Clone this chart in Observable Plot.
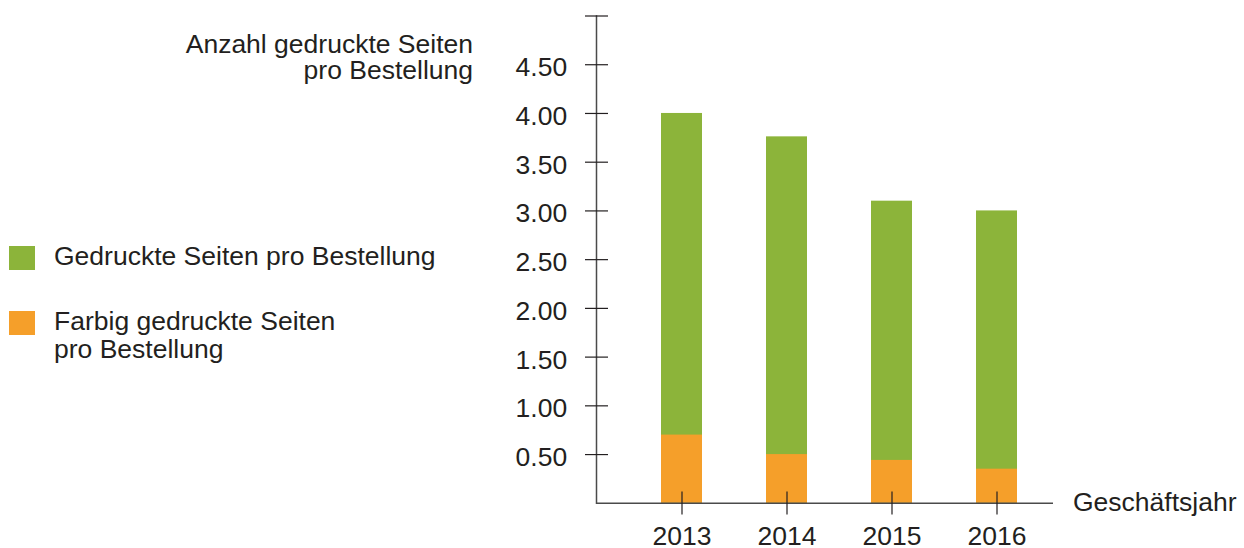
<!DOCTYPE html>
<html>
<head>
<meta charset="utf-8">
<script src="https://cdn.jsdelivr.net/npm/d3@7"></script>
<script src="https://cdn.jsdelivr.net/npm/@observablehq/plot@0.6"></script>
<style>
  html, body { margin: 0; padding: 0; background: #fff; }
  #wrap { position: relative; width: 1244px; height: 548px; font-family: "Liberation Sans", Arial, sans-serif; color: #231f20; }
  #wrap svg { position: absolute; left: 0; top: 0; }
  .lbl { position: absolute; font-size: 26.5px; white-space: nowrap; }
  .sw { position: absolute; width: 26px; height: 24px; }
</style>
</head>
<body>
<div id="wrap"></div>
<script>
const years = ["2013", "2014", "2015", "2016"];
const totalPages = [4.0, 3.76, 3.1, 3.0];
const colorPages = [0.7, 0.5, 0.44, 0.35];
const yTicks = [0.5, 1.0, 1.5, 2.0, 2.5, 3.0, 3.5, 4.0, 4.5, 5.0];
const seriesNames = ["Gedruckte Seiten pro Bestellung", "Farbig gedruckte Seiten\npro Bestellung"];
const seriesColors = ["#8cb43a", "#f59f2a"];
const yTitleLines = ["Anzahl gedruckte Seiten", "pro Bestellung"];
const xTitle = "Geschäftsjahr";

const data = years.map((y, i) => ({year: y, total: totalPages[i], color: colorPages[i]}));

const chart = Plot.plot({
  width: 1244,
  height: 548,
  marginLeft: 596,
  marginRight: 191,
  marginTop: 15.5,
  marginBottom: 45.2,
  style: {fontFamily: "Liberation Sans, Arial, sans-serif", fontSize: "26.5px", color: "#231f20", background: "#fff"},
  x: {type: "band", domain: years, range: [660.5, 1016.5], paddingInner: 0.61, paddingOuter: 0, align: 0.5},
  y: {domain: [0, 5]},
  marks: [
    Plot.barY(data, {x: "year", y1: 0, y2: "total", fill: seriesColors[0]}),
    Plot.barY(data, {x: "year", y1: 0, y2: "color", fill: seriesColors[1]}),
    Plot.frame({anchor: "left", stroke: "#4a4a4a", strokeWidth: 1.5}),
    Plot.ruleY([0], {stroke: "#4a4a4a", strokeWidth: 1.5}),
    Plot.axisY({ticks: yTicks, tickSize: 23, dx: 12, text: null, stroke: "#231f20", strokeWidth: 1.2, label: null}),
    Plot.axisY({ticks: yTicks, tickSize: 0, tickPadding: 29.3, dy: 3, tickFormat: d => d === 5 ? "" : d.toFixed(2), fill: "#231f20", label: null}),
    Plot.axisX({tickSize: 23, dy: -11.3, text: null, stroke: "#231f20", strokeWidth: 1.2, label: null}),
    Plot.axisX({tickSize: 0, tickPadding: 22.5, fill: "#231f20", label: null})
  ]
});

const wrap = document.getElementById("wrap");
wrap.appendChild(chart);

function addLabel(text, css) {
  const d = document.createElement("div");
  d.className = "lbl";
  Object.assign(d.style, css);
  d.innerHTML = text.split("\n").join("<br>");
  wrap.appendChild(d);
}
// y-axis title (two lines, right-aligned)
const titleTops = [32.4, 57.9];
yTitleLines.forEach((line, i) => {
  addLabel(line, {right: (1244 - 473) + "px", top: titleTops[i] + "px", lineHeight: "25px", textAlign: "right"});
});
// x-axis title
addLabel(xTitle, {left: "1073px", top: "489.3px", lineHeight: "26.5px"});
// legend
const swTops = [246, 311];
const txtTops = [243.3, 306.8];
seriesNames.forEach((name, i) => {
  const s = document.createElement("div");
  s.className = "sw";
  s.style.left = "9px";
  s.style.top = swTops[i] + "px";
  s.style.background = seriesColors[i];
  wrap.appendChild(s);
  addLabel(name, {left: "54px", top: txtTops[i] + "px", lineHeight: i === 0 ? "26.5px" : "28px"});
});
</script>
</body>
</html>
